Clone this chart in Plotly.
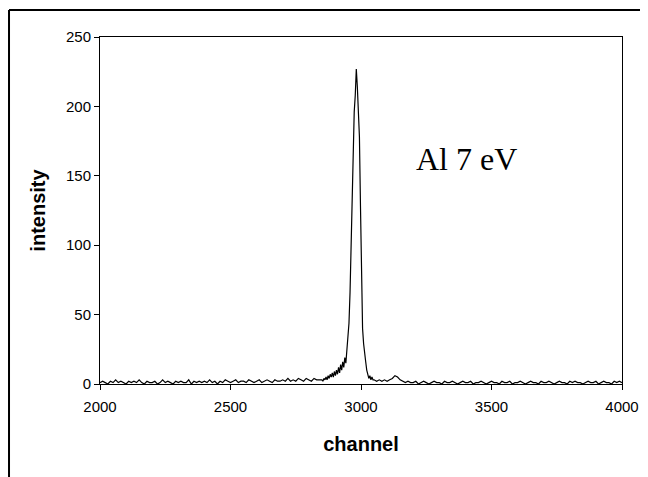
import plotly.graph_objects as go

# channel grids (regular sampling of the spectrum)
left_channels = list(range(2000, 2850, 10))
peak_channels = list(range(2850, 3050, 4))
right_channels = list(range(3050, 4001, 10))

left_counts = [1,2,1,0,2,1,3,1,2,1, 0,2,1,2,1,3,1,0,2,1, 1,2,0,1,3,1,2,1,0,2,
               1,2,1,1,3,0,2,1,2,1, 2,1,3,1,2,0,2,1,3,2, 1,2,3,1,2,2,1,3,2,1,
               2,3,1,2,3,2,1,3,2,2, 3,2,4,2,3,2,4,3,2,4, 3,2,4,3,3]
peak_counts = [3,2,4,3,5,3,6,4,7,5, 8,5,9,6,10,7,12,8,14,10,
               16,12,19,15,24,30,44,66,100,140, 172,196,208,227,214,200,178,128,74,40,
               29,24,16,10,7,4,6,3,5,3]
right_counts = [3,2,3,2,3,2,3,4,6,5, 3,2,1,2,1,1,2,0,1,2, 1,0,1,2,1,1,0,2,1,1,
                2,1,0,1,2,1,1,2,0,1, 1,2,1,0,1,2,1,1,0,2, 1,1,2,0,1,1,2,1,0,1,
                2,1,1,0,2,1,1,2,1,0, 1,2,1,1,0,2,1,2,1,1, 0,1,2,1,1,2,0,1,2,1,
                1,0,2,1,2,1]

channels = left_channels + peak_channels + right_channels
intensity = left_counts + peak_counts + right_counts

x_ticks = [2000, 2500, 3000, 3500, 4000]
y_ticks = [0, 50, 100, 150, 200, 250]

fig = go.Figure()
fig.add_trace(go.Scatter(x=channels, y=intensity, mode="lines",
                         line=dict(color="black", width=1.2), showlegend=False))

fig.add_annotation(x=3405, y=162, text="Al 7 eV", showarrow=False,
                   font=dict(family="Liberation Serif", size=32, color="black"))

# outer chart border (top and left edges; the rest lies outside the picture)
fig.add_shape(type="line", xref="paper", yref="paper",
              x0=-0.1743, y0=1.078, x1=1.25, y1=1.078,
              line=dict(color="black", width=2))
fig.add_shape(type="line", xref="paper", yref="paper",
              x0=-0.1743, y0=1.078, x1=-0.1743, y1=-0.4,
              line=dict(color="black", width=2))

axis_font = dict(family="Liberation Sans", size=15, color="black")
title_font = dict(family="Liberation Sans", size=20, color="black")

fig.update_xaxes(range=[2000, 4000], tickvals=x_ticks, ticks="outside", ticklen=5,
                 tickcolor="black", showline=True, linecolor="black", linewidth=1,
                 mirror=True, showgrid=False, zeroline=False, tickfont=axis_font,
                 ticklabelstandoff=4,
                 title=dict(text="<b>channel</b>", font=title_font, standoff=22))
fig.update_yaxes(range=[0, 250], tickvals=y_ticks, ticks="outside", ticklen=5,
                 tickcolor="black", showline=True, linecolor="black", linewidth=1,
                 mirror=True, showgrid=False, zeroline=False, tickfont=axis_font,
                 title=dict(text="<b>intensity</b>", font=title_font, standoff=14))

fig.update_layout(width=648, height=477, margin=dict(l=92, r=34, t=29, b=101),
                  plot_bgcolor="white", paper_bgcolor="white",
                  font=dict(family="Liberation Sans"))

fig.write_html("out.html")
